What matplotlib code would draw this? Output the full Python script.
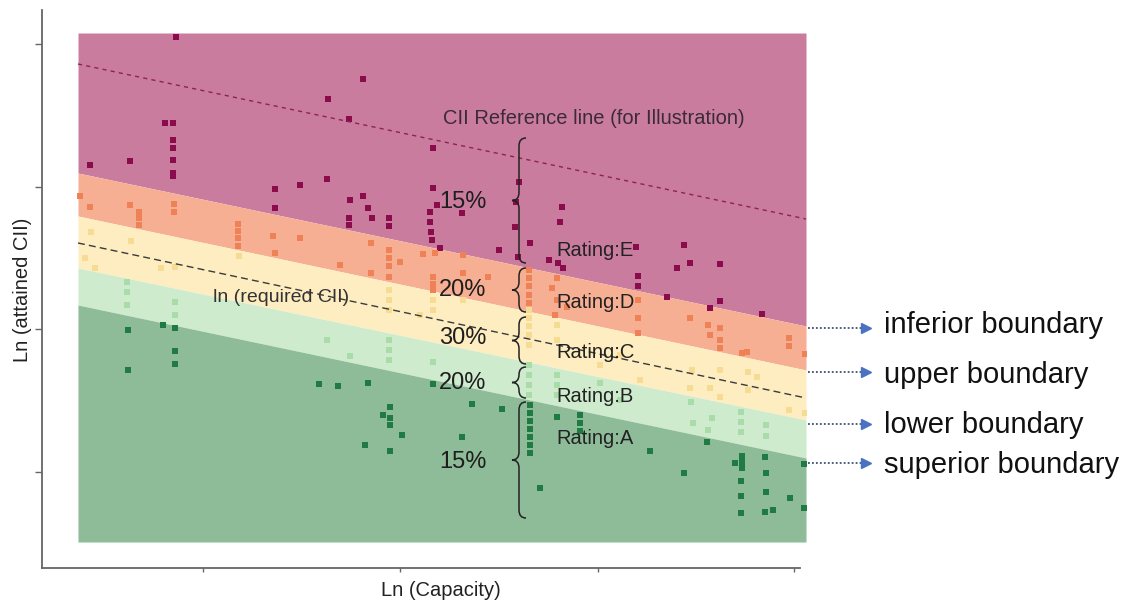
import numpy as np
import matplotlib
matplotlib.use("Agg")
import matplotlib.pyplot as plt
from matplotlib.path import Path
from matplotlib.patches import PathPatch

plt.rcParams["font.family"] = ["Liberation Sans", "DejaVu Sans"]

# ── Rating bands: boundary heights at the left / right edge of the shaded area ──
band_x = [0.78, 8.06]
band_top, band_bottom = 5.69, 0.60
boundary_left = [4.29, 3.86, 3.34, 2.97]    # E/D, D/C, C/B, B/A
boundary_right = [2.76, 2.32, 1.82, 1.44]
band_colors = ["#CA7C9F", "#F7AF93", "#FDEDC0", "#CEEBCE", "#8EBB98"]   # E D C B A

ref_line = [5.38, 3.83]        # CII reference line (left, right)
req_line = [3.59, 2.04]        # ln(required CII)

# ── Ship points, by rating ──
e_x = [1.76, 0.90, 1.30, 1.65, 1.73, 1.73, 1.73, 1.73, 1.73, 1.73, 2.75, 2.75, 3.00, 3.63, 3.28,
       3.49, 4.33, 3.27, 3.50, 3.63, 3.68, 3.72, 3.49, 3.49, 3.89, 3.89, 4.33, 4.37, 4.30, 4.30,
       4.31, 4.32, 4.40, 4.62, 5.16, 5.19, 5.15, 5.18, 5.30, 4.99, 5.62, 5.60, 5.49, 5.58, 5.63,
       6.36, 6.84, 6.77, 6.90, 7.20, 6.38, 6.38, 6.67, 7.20, 7.10, 7.62]
e_y = [5.65, 4.37, 4.41, 4.79, 4.79, 4.62, 4.54, 4.42, 4.29, 4.26, 4.13, 3.94, 4.17, 5.23, 5.03,
       4.83, 4.54, 4.23, 4.02, 4.06, 3.94, 3.84, 3.84, 3.77, 3.84, 3.76, 4.14, 3.97, 3.90, 3.80,
       3.70, 3.62, 3.54, 3.89, 4.00, 4.20, 3.75, 3.45, 3.59, 3.52, 3.95, 3.80, 3.42, 3.39, 3.34,
       3.55, 3.57, 3.34, 3.39, 3.38, 3.26, 3.16, 3.05, 3.01, 2.94, 2.88]

d_x = [0.80, 0.90, 1.30, 1.39, 1.39, 1.39, 1.74, 1.74, 2.38, 2.38, 2.38, 2.38, 2.73, 2.75, 3.00,
       3.40, 3.71, 3.71, 3.89, 3.89, 3.89, 3.89, 4.00, 4.23, 4.35, 4.33, 4.33, 4.33, 4.63, 4.63,
       4.88, 5.29, 5.29, 5.29, 5.29, 5.29, 5.52, 5.57, 5.57, 5.67, 5.55, 6.38, 6.38, 6.38, 6.90,
       7.08, 7.10, 7.20, 7.20, 7.20, 7.42, 7.47, 7.89, 7.89, 8.05]
d_y = [4.06, 3.95, 3.97, 3.90, 3.84, 3.77, 3.98, 3.90, 3.78, 3.71, 3.64, 3.56, 3.66, 3.49, 3.64,
       3.37, 3.59, 3.29, 3.52, 3.44, 3.36, 3.25, 3.40, 3.48, 3.49, 3.25, 3.18, 3.12, 3.47, 3.29,
       3.25, 3.32, 3.24, 3.16, 3.07, 2.99, 3.14, 3.24, 3.02, 2.95, 2.87, 3.02, 2.84, 2.69, 2.84,
       2.77, 2.67, 2.74, 2.62, 2.54, 2.49, 2.50, 2.64, 2.56, 2.48]

c_x = [0.91, 1.31, 0.85, 0.95, 1.61, 1.75, 2.39, 3.89, 3.89, 3.89, 4.33, 4.33, 4.63, 4.20, 5.29,
       5.29, 5.29, 5.29, 5.29, 5.57, 5.57, 6.00, 6.20, 6.40, 6.92, 7.20, 7.48, 7.10, 6.90, 7.48,
       7.57, 7.89, 8.05, 7.20]
c_y = [3.70, 3.61, 3.44, 3.34, 3.34, 3.35, 3.46, 3.12, 3.02, 2.92, 3.02, 2.92, 3.02, 2.87, 2.92,
       2.84, 2.76, 2.67, 2.57, 2.77, 2.62, 2.37, 2.47, 2.22, 2.32, 2.32, 2.30, 2.14, 2.14, 2.12,
       2.25, 1.92, 1.89, 2.05]

b_x = [1.27, 1.27, 1.27, 1.75, 1.75, 3.27, 3.50, 3.89, 3.89, 3.89, 4.33, 5.29, 5.29, 5.29, 5.29,
       5.57, 5.57, 5.57, 6.00, 6.20, 6.91, 6.93, 7.12, 7.08, 7.41, 7.41, 7.41, 7.66, 7.66]
b_y = [3.20, 3.10, 2.97, 3.00, 2.87, 2.62, 2.46, 2.62, 2.52, 2.42, 2.40, 2.37, 2.27, 2.17, 2.07,
       2.27, 2.17, 2.07, 2.19, 2.02, 2.00, 1.79, 1.84, 1.72, 1.90, 1.80, 1.70, 1.77, 1.66]

a_x = [1.28, 1.28, 1.63, 1.75, 1.75, 1.75, 3.19, 3.38, 3.68, 4.33, 3.65, 3.83, 3.90, 3.90, 3.90,
       3.90, 4.02, 4.72, 4.62, 5.02, 5.30, 5.30, 5.30, 5.30, 5.30, 5.30, 5.30, 5.40, 5.57, 5.80,
       5.80, 5.80, 6.50, 6.84, 7.07, 7.42, 7.42, 7.42, 7.35, 7.41, 7.41, 7.41, 7.65, 7.66, 7.66,
       7.65, 7.73, 7.90, 8.04, 8.04]
a_y = [2.72, 2.32, 2.77, 2.74, 2.51, 2.38, 2.18, 2.16, 2.19, 2.18, 1.57, 1.87, 1.95, 1.84, 1.77,
       1.51, 1.67, 1.98, 1.65, 1.93, 1.97, 1.89, 1.81, 1.73, 1.65, 1.57, 1.49, 1.14, 1.85, 1.87,
       1.79, 1.71, 1.51, 1.29, 1.60, 1.46, 1.40, 1.34, 1.39, 1.21, 1.06, 0.89, 1.45, 1.29, 1.10,
       0.90, 0.92, 1.04, 1.38, 0.94]

point_colors = ["#8A0C4C", "#EE8155", "#F6DB93", "#AADCAA", "#1F7A43"]

# ── Annotations ──
ratings = ["Rating:E", "Rating:D", "Rating:C", "Rating:B", "Rating:A"]
rating_y = [3.51, 2.99, 2.49, 2.06, 1.63]
percents = ["15%", "20%", "30%", "20%", "15%"]
percent_y = [4.00, 3.12, 2.64, 2.19, 1.40]
brace_top = [4.64, 3.34, 2.85, 2.35, 2.00]
brace_bottom = [3.39, 2.90, 2.38, 2.04, 0.84]
boundary_names = ["inferior boundary", "upper boundary", "lower boundary", "superior boundary"]
boundary_label_y = [2.77, 2.27, 1.77, 1.37]
arrow_y = [2.74, 2.30, 1.78, 1.39]


def brace(ax, x, y_top, y_bot, w=0.07):
    """Left-pointing curly brace with its spine at x."""
    ym = (y_top + y_bot) / 2
    r = min(0.08, (y_top - y_bot) / 4)
    verts = [(x + w, y_top), (x, y_top), (x, y_top - r),
             (x, ym + r), (x, ym), (x - w, ym),
             (x, ym), (x, ym - r),
             (x, y_bot + r), (x, y_bot), (x + w, y_bot)]
    codes = [Path.MOVETO, Path.CURVE3, Path.CURVE3,
             Path.LINETO, Path.CURVE3, Path.CURVE3,
             Path.CURVE3, Path.CURVE3,
             Path.LINETO, Path.CURVE3, Path.CURVE3]
    ax.add_patch(PathPatch(Path(verts, codes), fill=False, lw=1.1,
                           edgecolor="#222222", zorder=5))


fig = plt.figure(figsize=(11.28, 6.02), dpi=100)
ax = fig.add_axes([42 / 1128, 34 / 602, 764 / 1128, 558 / 602])
ax.set_xlim(0.42, 8.06)
ax.set_ylim(0.34, 5.92)

# bands
edges_l = [band_top] + boundary_left + [band_bottom]
edges_r = [band_top] + boundary_right + [band_bottom]
for i, col in enumerate(band_colors):
    ax.fill_between(band_x, [edges_l[i + 1], edges_r[i + 1]], [edges_l[i], edges_r[i]],
                    color=col, lw=0, zorder=1)

# points
for xs, ys, col in zip([e_x, d_x, c_x, b_x, a_x], [e_y, d_y, c_y, b_y, a_y], point_colors):
    ax.scatter(xs, ys, s=14, marker="s", color=col, lw=0, zorder=3)

# reference & required lines
ax.plot(band_x, ref_line, color="#8E2352", lw=1.0, ls=(0, (3, 3)), zorder=4)
ax.plot(band_x, req_line, color="#3A3A3A", lw=1.0, ls=(0, (5, 3)), zorder=4)

ax.text(4.43, 4.83, "CII Reference line (for Illustration)", fontsize=14.5,
        color="#3B2A38", va="center", zorder=6)
ax.text(2.13, 3.05, "ln (required CII)", fontsize=14, color="#333333", va="center", zorder=6)

for i in range(5):
    brace(ax, 5.19, brace_top[i], brace_bottom[i])
    ax.text(4.63, percent_y[i], percents[i], fontsize=17, ha="center", va="center",
            color="#1E1E1E", zorder=6)
    ax.text(5.56, rating_y[i], ratings[i], fontsize=14.5, va="center",
            color="#222222", zorder=6)

# boundary arrows and labels outside the axes
for yl, ya, name in zip(boundary_label_y, arrow_y, boundary_names):
    ax.plot([8.08, 8.62], [ya, ya], ls=(0, (1, 1.2)), color="#3F4E73", lw=1.3, clip_on=False)
    ax.plot([8.66], [ya], marker=">", ms=7, color="#4A72C0", clip_on=False)
    ax.text(8.84, yl, name, fontsize=21, va="center", color="#111111")

# axes styling
for s in ["top", "right"]:
    ax.spines[s].set_visible(False)
for s in ["left", "bottom"]:
    ax.spines[s].set_color("#666666")
    ax.spines[s].set_linewidth(1.3)
ax.spines["bottom"].set_bounds(0.42, 8.00)
ax.set_xticks([2.03, 4.00, 5.98, 7.94])
ax.set_yticks([5.58, 4.15, 2.73, 1.30])
ax.set_xticklabels([])
ax.set_yticklabels([])
ax.tick_params(axis="y", length=5, width=1, color="#666666")
ax.tick_params(axis="x", length=3, width=1, color="#666666")

fig.text(23 / 1128, 1 - 290 / 602, "Ln (attained CII)", rotation=90, fontsize=14.5,
         ha="center", va="center", color="#222222")
fig.text(441 / 1128, 12 / 602, "Ln (Capacity)", fontsize=14.5, ha="center", va="center",
         color="#222222")

fig.savefig("out.png", dpi=100)
